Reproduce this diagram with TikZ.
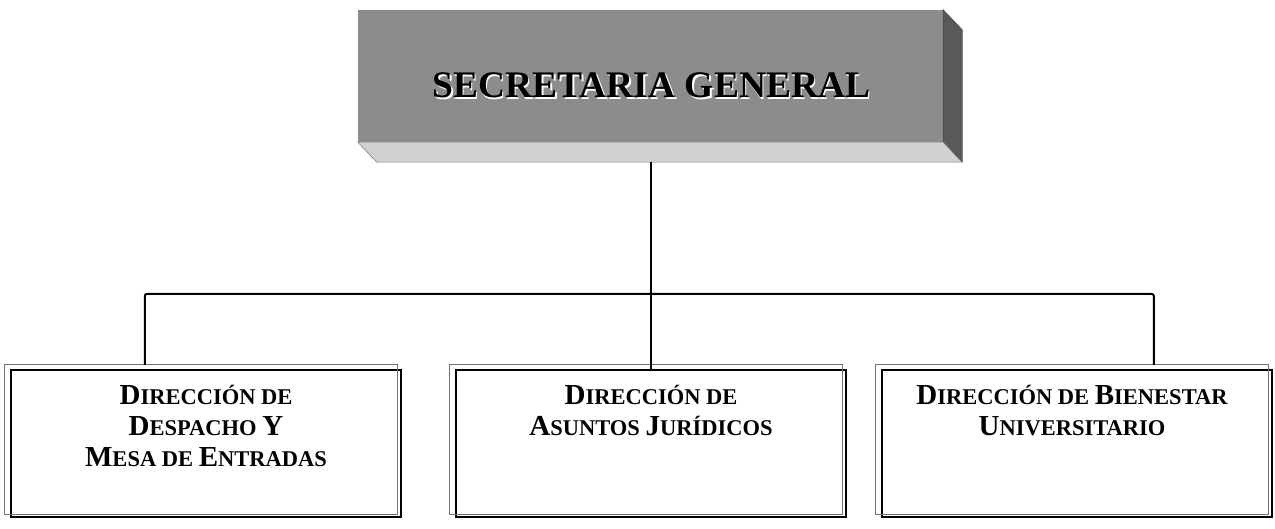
\documentclass[tikz,border=0pt]{standalone}
\usepackage{fontspec}
\setmainfont{Liberation Serif}
\usetikzlibrary{positioning,calc}

\definecolor{headgray}{gray}{0.55}
\definecolor{headdark}{gray}{0.35}
\definecolor{headlight}{gray}{0.82}
\newcommand{\bc}[1]{{\fontsize{29}{31}\selectfont #1}}

\begin{document}
\begin{tikzpicture}[
    x=1pt, y=-1pt,
    head/.style={rectangle, fill=headgray, minimum width=585pt, minimum height=132pt, inner sep=0pt},
    title/.style={font=\bfseries\fontsize{37.5}{40}\selectfont, inner sep=0pt},
    unit/.style={rectangle, draw=black, line width=2.4pt, minimum width=390pt, minimum height=147pt, inner sep=0pt},
    unitedge/.style={draw=black!55, line width=1pt},
    unittext/.style={anchor=north, align=center, font=\bfseries\fontsize{22.5}{31}\selectfont, inner sep=0pt},
    link/.style={draw=black, line width=2pt}
  ]
  \useasboundingbox (0,0) rectangle (1275,529);
  % top box with its bevel
  \node[head] (sec) at (650.5,76) {};
  \fill[headdark, draw=black!70, line width=0.6pt] (sec.north east) -- ++(19,20) -- ++(0,132) -- (sec.south east) -- cycle;
  \fill[headlight, draw=black!50, line width=0.6pt] (sec.south west) -- ++(19,20) -- ++(585,0) -- (sec.south east) -- cycle;
  \node[title, white] (secshade) at (653,87.5) {SECRETARIA GENERAL};
  \node[title] (secT) at (651.5,85.5) {SECRETARIA GENERAL};
  \coordinate (secbase) at ($(sec.south)+(0.5,20)$);

  % units
  \node[unit] (desp) at (206,443.5) {};
  \node[unit] (jur) at (651,443.5) {};
  \node[unit] (bien) at (1077,443.5) {};
  \foreach \u in {desp,jur,bien}
    \draw[unitedge] ($(\u.north west)+(-5,-4)$) rectangle ($(\u.south east)+(-5,-4)$);

  \node[unittext] (despT) at ($(desp.north)+(0,16)$) {\bc{D}IRECCIÓN DE\\\bc{D}ESPACHO \bc{Y}\\\bc{M}ESA DE \bc{E}NTRADAS};
  \node[unittext] (jurT) at ($(jur.north)+(0,16)$) {\bc{D}IRECCIÓN DE\\\bc{A}SUNTOS \bc{J}URÍDICOS};
  \node[unittext] (bienT) at ($(bien.north)+(-5,16)$) {\bc{D}IRECCIÓN DE \bc{B}IENESTAR\\\bc{U}NIVERSITARIO};

  % connectors
  \coordinate (bus) at (651,294);
  \draw[link] (secbase) -- (jur.north);
  \draw[link, rounded corners=2pt] ($(desp.north west)+(135,-4)$) |- (bus) -| ($(bien.north west)+(273,-4)$);
\end{tikzpicture}
\end{document}
